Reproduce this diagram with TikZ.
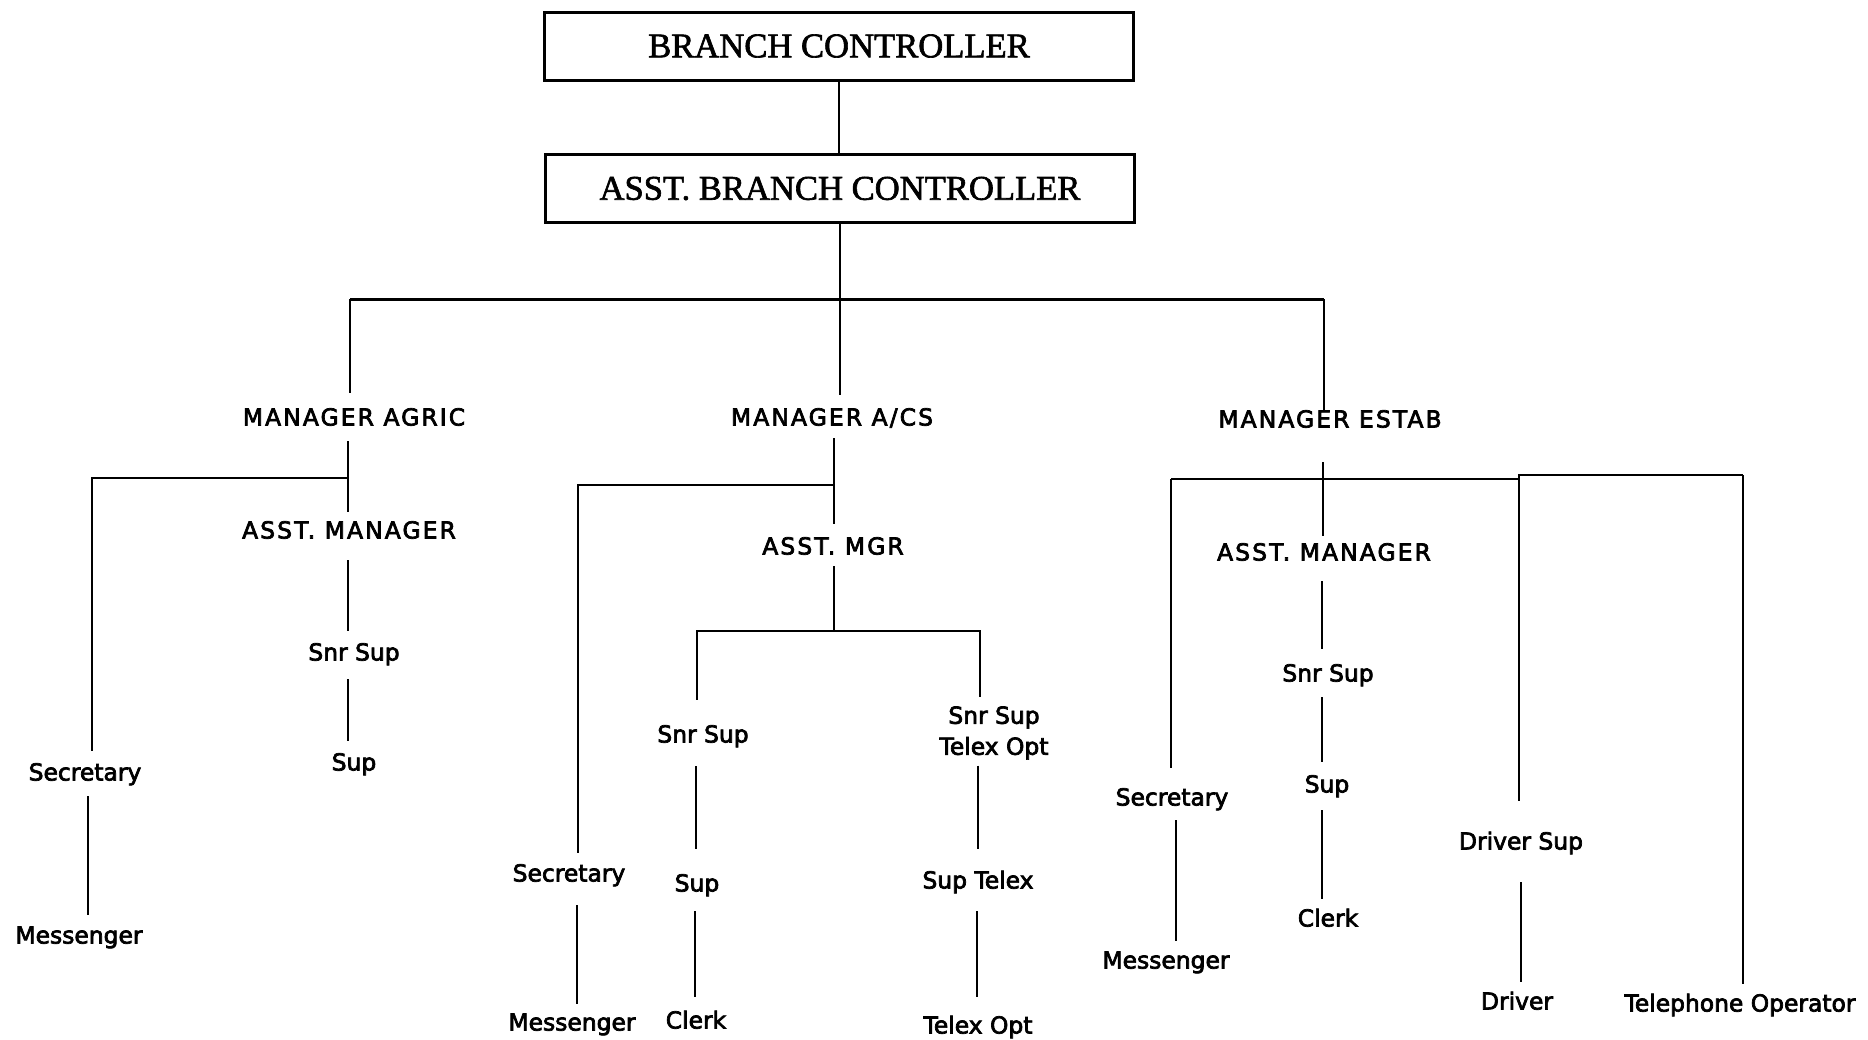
\documentclass[tikz,border=0pt]{standalone}
\usepackage{fontspec}
\setmainfont{Liberation Serif}
\newfontfamily\boxfont{Liberation Serif}[FakeBold=1.8]
\newfontfamily\capsfont{DejaVu Sans}[LetterSpace=9,FakeBold=3]
\newfontfamily\lblfont{DejaVu Sans}[FakeBold=3]
\newcommand\vlink[5]{\draw[shorten <=#3, shorten >=#4] ([xshift=#5]#1.south) -- ([xshift=#5]#1.south |- #2.north);}
\begin{document}
\begin{tikzpicture}[x=0.5pt,y=-0.5pt,
  line width=1.3pt,
  boxnode/.style={draw, line width=1.5pt, minimum width=294.5pt, minimum height=34pt, inner sep=0pt,
    font=\boxfont\fontsize{17.3}{20}\selectfont},
  capslbl/.style={inner sep=0pt, outer sep=0pt, text height=8.5pt, text depth=0pt,
    font=\capsfont\fontsize{11.7}{15.5}\selectfont},
  lbl/.style={inner sep=0pt, outer sep=0pt, text height=8.5pt, text depth=0pt,
    font=\lblfont\fontsize{11.7}{15.5}\selectfont},
  lbltwo/.style={inner sep=0pt, outer sep=0pt, align=center,
    font=\lblfont\fontsize{11.7}{15.5}\selectfont}]
\useasboundingbox (0,0) rectangle (1868,1039);

% boxes
\node[boxnode] (bc) at (839,46) {BRANCH CONTROLLER};
\node[boxnode] (abc) at (840,188.5) {ASST. BRANCH CONTROLLER};

% managers
\node[capslbl] (ma) at (354,417) {MANAGER AGRIC};
\node[capslbl] (macs) at (832,417) {MANAGER A/CS};
\node[capslbl] (me) at (1330,419) {MANAGER ESTAB};

% agric
\node[capslbl] (am1) at (349,530) {ASST. MANAGER};
\node[lbl] (ss1) at (354,652) {Snr Sup};
\node[lbl] (sup1) at (354,762) {Sup};
\node[lbl] (sec1) at (85,772) {Secretary};
\node[lbl] (mes1) at (79,935) {Messenger};

% a/cs
\node[capslbl] (am2) at (833,546) {ASST. MGR};
\node[lbl] (ss2) at (703,734) {Snr Sup};
\node[lbltwo] (sst) at (994,733) {Snr Sup\\Telex Opt};
\node[lbl] (sec2) at (569,873) {Secretary};
\node[lbl] (mes2) at (572,1022) {Messenger};
\node[lbl] (sup2) at (697,883) {Sup};
\node[lbl] (clk2) at (696,1020) {Clerk};
\node[lbl] (supt) at (978,880) {Sup Telex};
\node[lbl] (tlx) at (978,1025) {Telex Opt};

% estab
\node[capslbl] (am3) at (1324,552) {ASST. MANAGER};
\node[lbl] (sec3) at (1172,797) {Secretary};
\node[lbl] (mes3) at (1166,960) {Messenger};
\node[lbl] (ss3) at (1328,673) {Snr Sup};
\node[lbl] (sup3) at (1327,784) {Sup};
\node[lbl] (clk3) at (1328,918) {Clerk};
\node[lbl] (drs) at (1521,841) {Driver Sup};
\node[lbl] (drv) at (1517,1001) {Driver};
\node[lbl] (tel) at (1740,1003) {Telephone Operator};

% junction coordinates
\coordinate (hL) at (350,299);
\coordinate (hR) at (1324,299);
\coordinate (jA) at (348,478);
\coordinate (jB) at (834,485);
\coordinate (jC) at (834,631);
\coordinate (jE) at (1171,479);
\coordinate (jS) at (1519,479);
\coordinate (jD) at (1519,475);
\coordinate (jT) at (1743,475);

% top
\draw[line width=1.4pt] (bc.south) -- (bc.south |- abc.north);
\draw[shorten >=6.75pt] (abc.south) -- (abc.south |- macs.north);
\draw[line width=1.5pt] (hL) -- (hR);
\draw[shorten >=7.75pt] (hL) -- (hL |- ma.north);
\draw (hR) -- (hR |- me.north);

% agric
\vlink{ma}{am1}{7.75pt}{4.75pt}{-3pt}
\draw[line width=1.4pt, shorten >=6.25pt] (jA) -| ([xshift=3.5pt]sec1.north);
\vlink{am1}{ss1}{10.75pt}{6.25pt}{-0.5pt}
\vlink{ss1}{sup1}{9.25pt}{6.25pt}{-3pt}
\vlink{sec1}{mes1}{7.75pt}{5.75pt}{1.5pt}

% a/cs
\vlink{macs}{am2}{6.25pt}{6.75pt}{1pt}
\draw[line width=1.4pt, shorten >=5.75pt] (jB) -| ([xshift=4.5pt]sec2.north);
\draw[shorten <=5.75pt] ([xshift=0.5pt]am2.south) -- (jC);
\draw[line width=1.4pt, shorten >=12.75pt] (jC) -| ([xshift=-3pt]ss2.north);
\draw[line width=1.4pt, shorten >=4.75pt] (jC) -| ([xshift=-7pt]sst.north);
\vlink{ss2}{sup2}{11.75pt}{12.75pt}{-3.5pt}
\vlink{sup2}{clk2}{9.75pt}{7.25pt}{-1pt}
\vlink{sst}{supt}{3pt}{11.25pt}{-8pt}
\vlink{supt}{tlx}{11.25pt}{9.75pt}{-0.5pt}
\vlink{sec2}{mes2}{11.75pt}{4.75pt}{4pt}

% estab
\vlink{me}{am3}{17.25pt}{3.75pt}{-3.5pt}
\draw[line width=1.4pt] (jE) -- (jS) -- (jD) -- (jT);
\draw[shorten >=10.25pt] (jE) -- (jE |- sec3.north);
\draw[shorten >=15.75pt] (jD) -- (jD |- drs.north);
\draw[shorten >=5.25pt] (jT) -- (jT |- tel.north);
\vlink{am3}{ss3}{10.25pt}{7.75pt}{-1pt}
\vlink{ss3}{sup3}{7.75pt}{6.75pt}{-3pt}
\vlink{sup3}{clk3}{8.75pt}{5.25pt}{-2.5pt}
\vlink{sec3}{mes3}{7.25pt}{5.25pt}{2pt}
\vlink{drs}{drv}{16.25pt}{5.25pt}{0pt}
\end{tikzpicture}
\end{document}
